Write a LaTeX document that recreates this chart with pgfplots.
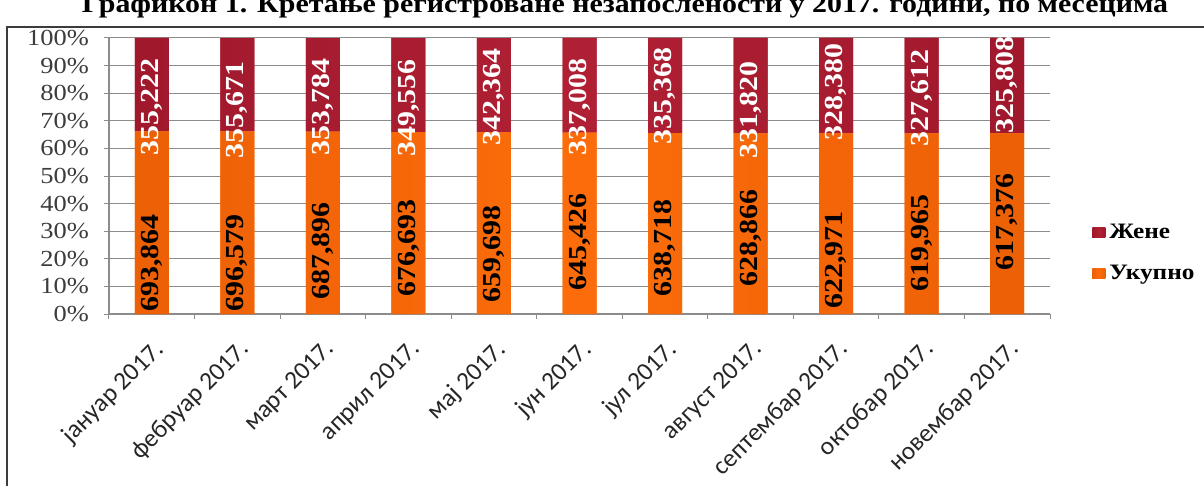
\documentclass[border=0pt]{standalone}
\usepackage{fontspec}
\setmainfont{Liberation Serif}[FakeStretch=1.15]
\newfontfamily\xfont{Carlito}
\usepackage{pgfplots}
\pgfplotsset{compat=1.18}
\usepackage{pgfplotstable}
\definecolor{ukupno}{RGB}{252,108,10}
\definecolor{ukupnod}{RGB}{236,96,6}
\definecolor{zene}{RGB}{176,32,52}
\definecolor{zened}{RGB}{160,24,44}
\definecolor{gridc}{RGB}{140,140,140}
\definecolor{tickc}{RGB}{60,60,60}

\pgfplotstableread{
x u z ul zl upos zpos
0 693864 355222 693,864 355,222 18.5 75.0
1 696579 355671 696,579 355,671 18.5 73.9
2 687896 353784 687,896 353,784 22.8 75.0
3 676693 349556 676,693 349,556 23.9 74.6
4 659698 342364 659,698 342,364 21.7 78.6
5 645426 337008 645,426 337,008 26.1 75.0
6 638718 335368 638,718 335,368 23.9 79.0
7 628866 331820 628,866 331,820 27.5 73.9
8 622971 328380 622,971 328,380 19.6 80.4
9 619965 327612 619,965 327,612 25.7 78.3
10 617376 325808 617,376 325,808 33.3 83.0
}\data

\begin{document}
\begin{tikzpicture}
\clip (0,0) rectangle (602pt,-243pt);
% frame
\draw[line width=1pt, color=tickc] (3.5pt,-270pt) -- (3.5pt,-13.5pt) -- (620pt,-13.5pt);
% title (cut at the top like the reference)
\node[anchor=base, font=\bfseries\fontsize{13}{14}\selectfont] at (312.5pt,-6.5pt)
  {Графикон 1. Кретање регистроване незапослености у 2017. години, по месецима};

\begin{axis}[
  at={(54.5pt,-157pt)}, anchor=south west,
  scale only axis, width=470.5pt, height=138pt,
  ybar stacked, bar width=17pt,
  xmin=-0.5, xmax=10.5, ymin=0, ymax=100,
  xtick={0,...,10},
  xticklabels={јануар 2017., фебруар 2017., март 2017., април 2017., мај 2017., јун 2017., јул 2017., август 2017., септембар 2017., октобар 2017., новембар 2017.},
  minor xtick={-0.5,0.5,...,10.5},
  major x tick style={draw=none},
  ytick={0,10,...,100},
  yticklabels={0\%,10\%,20\%,30\%,40\%,50\%,60\%,70\%,80\%,90\%,100\%},
  ymajorgrids, grid style={gridc, line width=0.5pt},
  axis x line*=bottom, axis y line*=left,
  axis line style={gridc, line width=0.6pt},
  tick align=outside, tick style={gridc, line width=0.5pt},
  major tick length=2.5pt, minor tick length=2.5pt,
  yticklabel style={font=\fontsize{11.5}{11.5}\selectfont, text=tickc, xshift=-4pt},
  xticklabel style={font=\xfont\fontsize{12.7}{12.7}\selectfont, rotate=45, anchor=north east, text=black!85, xshift=-3pt, yshift=-3.5pt},
  legend style={at={(1.0446,0.22)}, anchor=west, draw=none, fill=none, inner sep=0pt,
    font=\bfseries\fontsize{11}{11}\selectfont, row sep=8pt,
    /tikz/every even column/.append style={column sep=1pt}},
  legend cell align=left,
  reverse legend,
  legend image code/.code={\fill[#1] (0pt,-2.5pt) rectangle (6.5pt,2.5pt);},
]
\addplot[left color=ukupnod, right color=ukupnod, middle color=ukupno, draw=none, fill=ukupno] table[x=x, y expr={100*\thisrow{u}/(\thisrow{u}+\thisrow{z})}] {\data};
\addlegendentry{Укупно}
\addplot[left color=zened, right color=zened, middle color=zene, draw=none, fill=zene] table[x=x, y expr={100*\thisrow{z}/(\thisrow{u}+\thisrow{z})}] {\data};
\addlegendentry{Жене}
\end{axis}

\begin{axis}[
  at={(54.5pt,-157pt)}, anchor=south west,
  scale only axis, width=470.5pt, height=138pt,
  xmin=-0.5, xmax=10.5, ymin=0, ymax=100,
  hide axis, clip=false,
]
\addplot[only marks, mark=none, nodes near coords, point meta=explicit symbolic,
  nodes near coords style={rotate=90, anchor=center, inner sep=0pt,
    font=\bfseries\fontsize{13}{13}\selectfont, text=black}]
  table[x=x, y=upos, meta=ul] {\data};
\addplot[only marks, mark=none, nodes near coords, point meta=explicit symbolic,
  nodes near coords style={rotate=90, anchor=center, inner sep=0pt,
    font=\bfseries\fontsize{13}{13}\selectfont, text=white}]
  table[x=x, y=zpos, meta=zl] {\data};
\end{axis}
\end{tikzpicture}
\end{document}
